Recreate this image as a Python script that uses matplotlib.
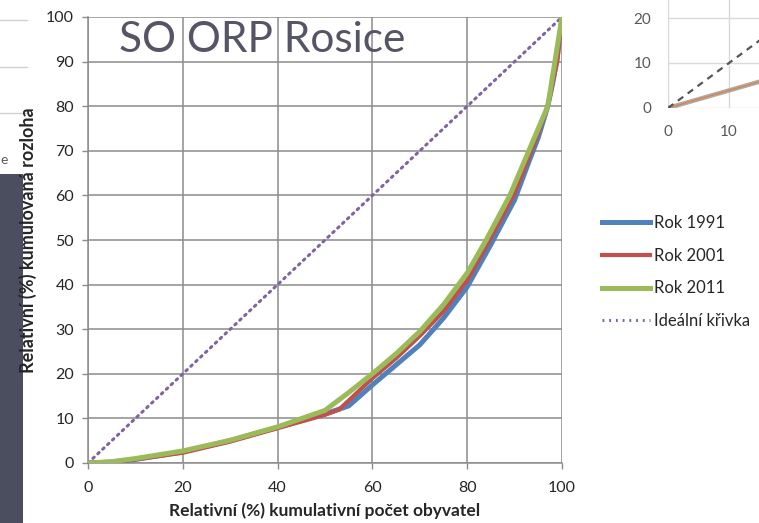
import matplotlib
matplotlib.use("Agg")
import matplotlib.pyplot as plt
from matplotlib.lines import Line2D
from matplotlib.patches import Rectangle

plt.rcParams['font.family'] = ['Lato', 'DejaVu Sans']

# ---- data ----
x_1991 = [0, 5, 10, 20, 30, 40, 50, 55, 60, 65, 70, 75, 80, 85, 90, 93, 95, 97, 98, 99, 100]
y_1991 = [0, 0.2, 0.8, 2.5, 5.0, 8.0, 11.0, 12.8, 17.5, 22.0, 26.5, 32.5, 39.5, 49.0, 59.0, 67.5, 73.0, 80.0, 85.0, 91.0, 100]

x_2001 = [0, 5, 10, 20, 30, 40, 50, 53, 55, 60, 65, 70, 75, 80, 85, 90, 95, 97, 99, 100]
y_2001 = [0, 0.2, 0.8, 2.3, 4.8, 7.8, 10.8, 12.0, 14.0, 19.0, 23.5, 28.5, 34.0, 41.0, 50.5, 60.5, 74.0, 80.0, 90.0, 100]

x_2011 = [0, 5, 10, 20, 30, 40, 50, 55, 60, 65, 70, 75, 80, 84, 89, 93, 97, 98.5, 100]
y_2011 = [0, 0.3, 1.0, 2.7, 5.1, 8.1, 11.8, 15.8, 20.0, 24.5, 29.5, 35.5, 42.6, 50.0, 60.0, 70.0, 80.0, 90.0, 100]

x_ideal = [0, 100]
y_ideal = [0, 100]

labels = ["Rok 1991", "Rok 2001", "Rok 2011", "Ideální křivka"]
title = "SO ORP Rosice"
xlabel = "Relativní (%) kumulativní počet obyvatel"
ylabel = "Relativní (%) kumulovaná rozloha"
xticks = [0, 20, 40, 60, 80, 100]
yticks = [0, 10, 20, 30, 40, 50, 60, 70, 80, 90, 100]

# inset fragment (partially visible chart at top right)
inset_x = [0, 20]
inset_ideal = [0, 20]
inset_line = [0, 7.8]
inset_xticks = [0, 10]
inset_yticks = [0, 10, 20]

W, H = 759, 523
fig = plt.figure(figsize=(W / 100, H / 100), dpi=100)

def fx(px):
    return px / W

def fy(py):
    return 1 - py / H

grid_c = '#8c8c8c'
txt_c = '#262626'

# ---- left edge fragments ----
for py in [20, 67, 113]:
    fig.add_artist(Line2D([0, fx(27)], [fy(py), fy(py)], color='#d0d0d0', lw=1, zorder=0))
fig.text(fx(8), fy(160), "e", fontsize=10, color='#595959', ha='right', va='center')
fig.add_artist(Rectangle((0, 0), fx(23), fy(174), color='#4b4e5e', lw=0, zorder=0))

# ---- main axes ----
ax = fig.add_axes([fx(88), fy(463), fx(562) - fx(88), fy(17) - fy(463)])
ax.plot(x_1991, y_1991, color='#4F81BD', lw=3.6, label=labels[0], solid_capstyle='round', zorder=3)
ax.plot(x_2001, y_2001, color='#C0504D', lw=3.0, label=labels[1], solid_capstyle='round', zorder=4)
ax.plot(x_2011, y_2011, color='#9BBB59', lw=3.6, label=labels[2], solid_capstyle='round', zorder=5)
ax.plot(x_ideal, y_ideal, color='#8064A2', lw=2.2, ls=(0, (0.6, 1.6)), dash_capstyle='round',
        label=labels[3], zorder=2)
ax.set_xlim(0, 100)
ax.set_ylim(0, 100)
ax.set_xticks(xticks)
ax.set_yticks(yticks)
ax.grid(True, color=grid_c, lw=1.1)
ax.set_axisbelow(True)
for s in ['top', 'right']:
    ax.spines[s].set_visible(False)
for s in ['left', 'bottom']:
    ax.spines[s].set_color(grid_c)
    ax.spines[s].set_linewidth(1.1)
ax.tick_params(axis='both', colors=grid_c, labelcolor=txt_c, labelsize=11.5, length=4, width=1)
ax.tick_params(axis='x', pad=9)
ax.tick_params(axis='y', pad=6)
ax.set_xlabel(xlabel, fontsize=12.5, fontweight='bold', color=txt_c, labelpad=5)
ax.set_ylabel(ylabel, fontsize=13, fontweight='bold', color=txt_c)
ax.yaxis.label.set_zorder(10)
ax.yaxis.set_label_coords((37 - 88) / (562 - 88), 0.5)
ax.text(0.065, 0.99, title, transform=ax.transAxes, fontsize=30.5, color='#555566',
        ha='left', va='top', zorder=6)

handles = [Line2D([0], [0], color='#4F81BD', lw=3.6),
           Line2D([0], [0], color='#C0504D', lw=3.0),
           Line2D([0], [0], color='#9BBB59', lw=3.6),
           Line2D([0], [0], color='#8064A2', lw=2.2, ls=(0, (0.6, 1.6)))]
leg = fig.legend(handles, labels, loc='upper left', bbox_to_anchor=(fx(602), fy(215)),
                 frameon=False, fontsize=12, handlelength=2.9, handletextpad=0.2,
                 labelspacing=1.0, borderpad=0, borderaxespad=0)
for t in leg.get_texts():
    t.set_color(txt_c)

# ---- inset fragment top right ----
ax2 = fig.add_axes([fx(668), fy(108), (6.1 * 20) / W, (4.5 * 30) / H])
ax2.plot(inset_x, inset_line, color='#b0a8a4', lw=3.2)
ax2.plot(inset_x, inset_line, color='#E08040', lw=0.8)
ax2.plot(inset_x, inset_ideal, color='#555555', lw=1.6, ls=(0, (3, 2.5)))
ax2.set_xlim(0, 20)
ax2.set_ylim(0, 30)
ax2.set_xticks(inset_xticks)
ax2.set_yticks(inset_yticks)
ax2.grid(True, color='#d9d9d9', lw=1)
ax2.set_axisbelow(True)
for s in ax2.spines.values():
    s.set_visible(False)
ax2.tick_params(length=0, labelsize=11, labelcolor='#595959', pad=12)
ax2.set_facecolor('none')

fig.savefig('out.png', dpi=100)
